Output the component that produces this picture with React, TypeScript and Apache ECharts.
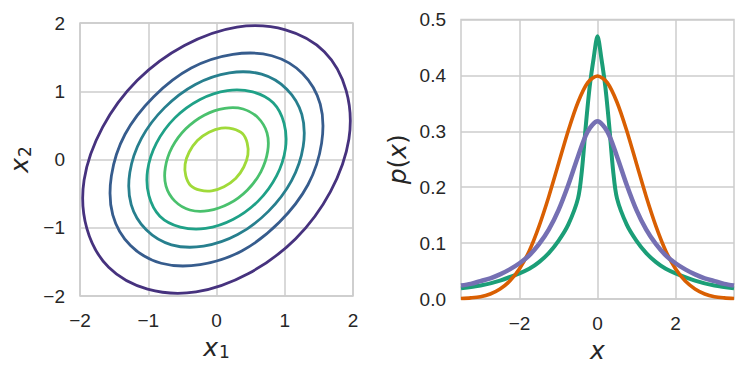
import React, { useEffect, useRef } from "react";
import * as echarts from "echarts";

// ---- Left panel: contour lines of a correlated 2D Gaussian
const contourColors = ["#46327e", "#365c8d", "#277f8e", "#1fa187", "#4ac16d", "#a0da39"];
const contour1 = [[1.58,1.58],[1.90,1.01],[1.94,0.30],[1.67,-0.47],[1.16,-1.16],[0.47,-1.67],[-0.30,-1.94],[-1.01,-1.90],[-1.58,-1.58],[-1.90,-1.01],[-1.94,-0.30],[-1.67,0.47],[-1.16,1.16],[-0.47,1.67],[0.30,1.94],[1.01,1.90]];
const contour2 = [[1.26,1.26],[1.52,0.81],[1.54,0.24],[1.34,-0.37],[0.92,-0.92],[0.37,-1.34],[-0.24,-1.54],[-0.81,-1.52],[-1.26,-1.26],[-1.52,-0.81],[-1.54,-0.24],[-1.34,0.37],[-0.92,0.92],[-0.37,1.34],[0.24,1.54],[0.81,1.52]];
const contour3 = [[1.03,1.03],[1.25,0.66],[1.27,0.19],[1.10,-0.31],[0.76,-0.76],[0.31,-1.10],[-0.19,-1.27],[-0.66,-1.25],[-1.03,-1.03],[-1.25,-0.66],[-1.27,-0.19],[-1.10,0.31],[-0.76,0.76],[-0.31,1.10],[0.19,1.27],[0.66,1.25]];
const contour4 = [[0.83,0.83],[0.99,0.53],[1.01,0.16],[0.88,-0.24],[0.61,-0.61],[0.24,-0.88],[-0.16,-1.01],[-0.53,-0.99],[-0.83,-0.83],[-0.99,-0.53],[-1.01,-0.16],[-0.88,0.24],[-0.61,0.61],[-0.24,0.88],[0.16,1.01],[0.53,0.99]];
const contour5 = [[0.61,0.61],[0.74,0.39],[0.75,0.12],[0.65,-0.18],[0.45,-0.45],[0.18,-0.65],[-0.12,-0.75],[-0.39,-0.74],[-0.61,-0.61],[-0.74,-0.39],[-0.75,-0.12],[-0.65,0.18],[-0.45,0.45],[-0.18,0.65],[0.12,0.75],[0.39,0.74]];
const contour6 = [[0.38,0.38],[0.45,0.24],[0.46,0.07],[0.40,-0.11],[0.28,-0.28],[0.11,-0.40],[-0.07,-0.46],[-0.24,-0.45],[-0.38,-0.38],[-0.45,-0.24],[-0.46,-0.07],[-0.40,0.11],[-0.28,0.28],[-0.11,0.40],[0.07,0.46],[0.24,0.45]];
const contours = [contour1, contour2, contour3, contour4, contour5, contour6];
const leftTicks = [-2, -1, 0, 1, 2];

// ---- Right panel: densities
const densityX = [-3.5,-3.25,-3,-2.75,-2.5,-2.25,-2,-1.75,-1.5,-1.25,-1,-0.75,-0.5,-0.25,0,0.25,0.5,0.75,1,1.25,1.5,1.75,2,2.25,2.5,2.75,3,3.25,3.5];
const gaussianPdf = [0.001,0.002,0.004,0.009,0.018,0.032,0.054,0.086,0.130,0.183,0.242,0.301,0.352,0.387,0.399,0.387,0.352,0.301,0.242,0.183,0.130,0.086,0.054,0.032,0.018,0.009,0.004,0.002,0.001];
const cauchyPdf = [0.024,0.027,0.032,0.037,0.044,0.053,0.064,0.078,0.098,0.124,0.159,0.204,0.255,0.300,0.318,0.300,0.255,0.204,0.159,0.124,0.098,0.078,0.064,0.053,0.044,0.037,0.032,0.027,0.024];
const spikeX = [-3.5,-3,-2.5,-2,-1.75,-1.5,-1.25,-1,-0.75,-0.5,-0.4,-0.3,-0.2,-0.1,0,0.1,0.2,0.3,0.4,0.5,0.75,1,1.25,1.5,1.75,2,2.5,3,3.5];
const spikePdf = [0.019,0.024,0.033,0.046,0.054,0.066,0.082,0.104,0.133,0.180,0.230,0.310,0.380,0.430,0.470,0.430,0.380,0.310,0.230,0.180,0.133,0.104,0.082,0.066,0.054,0.046,0.033,0.024,0.019];
const rightXTicks = [-2, 0, 2];

const textColor = "#262626";
const gridColor = "#cccccc";
const tickFont = "Liberation Sans";
const mathFont = "DejaVu Sans";

const fmt = (v: number) => String(v).replace("-", "\u2212");

const richName = {
  i: { fontFamily: mathFont, fontStyle: "italic", fontSize: 25, color: textColor },
  n: { fontFamily: mathFont, fontSize: 25, color: textColor },
  s: { fontFamily: mathFont, fontSize: 17, color: textColor, padding: [10, 0, 0, 1] },
};

export default function App() {
  const ref = useRef<HTMLDivElement>(null);
  useEffect(() => {
    if (!ref.current) return;
    const chart = echarts.init(ref.current, null, { renderer: "svg" });
    const axisLabel = { fontFamily: tickFont, fontSize: 19, color: textColor, margin: 15, formatter: fmt };
    const splitLine = { show: true, lineStyle: { color: gridColor, width: 1.5 } };
    chart.setOption({
      animation: false,
      backgroundColor: "#ffffff",
      grid: [
        { left: 80, top: 23, width: 273, height: 273, show: true, borderColor: gridColor, borderWidth: 1.5, backgroundColor: "transparent" },
        { left: 461, top: 19.5, width: 273, height: 279.5, show: true, borderColor: gridColor, borderWidth: 1.5, backgroundColor: "transparent" },
      ],
      xAxis: [
        {
          gridIndex: 0, type: "value", min: leftTicks[0], max: leftTicks[leftTicks.length - 1], interval: 1,
          axisLine: { show: false }, axisTick: { show: false }, splitLine, axisLabel,
          name: "{i|x}{s|1}", nameLocation: "middle", nameGap: 34, nameTextStyle: { rich: richName },
        },
        {
          gridIndex: 1, type: "value", min: -3.5, max: 3.5,
          axisLine: { show: false }, axisTick: { show: false, customValues: rightXTicks }, splitLine,
          axisLabel: { ...axisLabel, customValues: rightXTicks },
          name: "{i|x}", nameLocation: "middle", nameGap: 31, nameTextStyle: { rich: richName },
        },
      ],
      yAxis: [
        {
          gridIndex: 0, type: "value", min: leftTicks[0], max: leftTicks[leftTicks.length - 1], interval: 1,
          axisLine: { show: false }, axisTick: { show: false }, splitLine, axisLabel,
          name: "{i|x}{s|2}", nameLocation: "middle", nameGap: 47, nameTextStyle: { rich: richName },
        },
        {
          gridIndex: 1, type: "value", min: 0, max: 0.5, interval: 0.1,
          axisLine: { show: false }, axisTick: { show: false }, splitLine,
          axisLabel: { ...axisLabel, formatter: (v: number) => v.toFixed(1) },
          name: "{i|p}{n|(}{i|x}{n|)}", nameLocation: "middle", nameGap: 51, nameTextStyle: { rich: richName },
        },
      ],
      series: [
        {
          type: "custom",
          xAxisIndex: 0,
          yAxisIndex: 0,
          silent: true,
          data: contours.map((_, i) => [i, 0]),
          renderItem: (params: any, api: any) => {
            const pts = contours[params.dataIndex].map((p) => api.coord(p));
            return {
              type: "polygon",
              shape: { points: pts, smooth: 0.34 },
              style: { fill: "none", stroke: contourColors[params.dataIndex], lineWidth: 2.8 },
            };
          },
        },
        {
          type: "line", xAxisIndex: 1, yAxisIndex: 1, showSymbol: false, smooth: 0.3, silent: true,
          data: spikeX.map((x, i) => [x, spikePdf[i]]),
          lineStyle: { color: "#1b9e77", width: 4, join: "round" },
        },
        {
          type: "line", xAxisIndex: 1, yAxisIndex: 1, showSymbol: false, smooth: 0.3, silent: true,
          data: densityX.map((x, i) => [x, gaussianPdf[i]]),
          lineStyle: { color: "#d95f02", width: 3.6, join: "round" },
        },
        {
          type: "line", xAxisIndex: 1, yAxisIndex: 1, showSymbol: false, smooth: 0.3, silent: true,
          data: densityX.map((x, i) => [x, cauchyPdf[i]]),
          lineStyle: { color: "#7570b3", width: 4.5, join: "round" },
        },
      ],
    });
    return () => chart.dispose();
  }, []);
  return <div ref={ref} style={{ position: "fixed", left: 0, top: 0, width: 747, height: 376, background: "#fff" }} />;
}
